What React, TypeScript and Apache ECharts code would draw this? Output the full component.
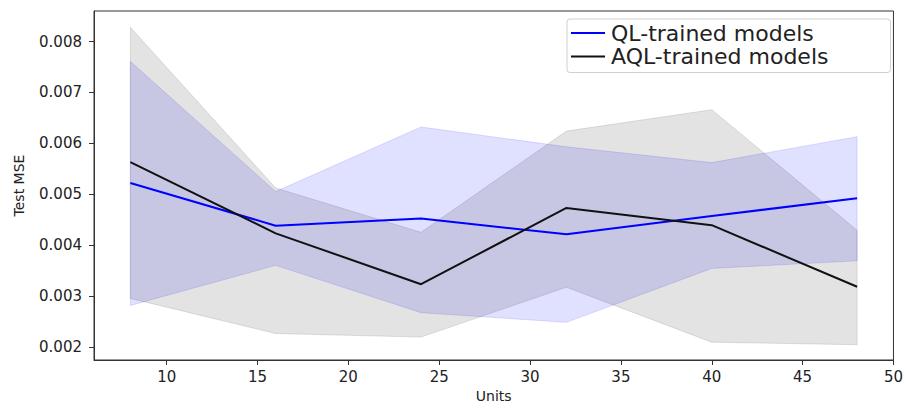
import React, { useEffect, useRef } from "react";
import * as echarts from "echarts";

const units = [8, 16, 24, 32, 40, 48];
const qlMean = [0.00522, 0.00438, 0.00452, 0.00421, 0.00457, 0.00492];
const qlUpper = [0.00761, 0.00505, 0.00632, 0.00593, 0.00562, 0.00613];
const qlLower = [0.00281, 0.0036, 0.00267, 0.00248, 0.00354, 0.00369];
const aqlMean = [0.00563, 0.00423, 0.00323, 0.00473, 0.00439, 0.00318];
const aqlUpper = [0.00828, 0.00512, 0.00425, 0.00624, 0.00666, 0.00429];
const aqlLower = [0.00295, 0.00226, 0.00219, 0.00317, 0.00209, 0.00204];
const xTicks = [10, 15, 20, 25, 30, 35, 40, 45, 50];
const yTicks = [0.002, 0.003, 0.004, 0.005, 0.006, 0.007, 0.008];

const FONT = "DejaVu Sans";

function band(name: string, lower: number[], upper: number[], color: string) {
  return {
    name,
    type: "custom",
    silent: true,
    z: 1,
    encode: { x: 0, y: [1, 2] },
    data: units.map((u, i) => [u, lower[i], upper[i]]),
    renderItem: (params: any, api: any) => {
      if (params.dataIndex !== 0) return null;
      const pts: number[][] = [];
      for (let i = 0; i < units.length; i++) pts.push(api.coord([units[i], upper[i]]));
      for (let i = units.length - 1; i >= 0; i--) pts.push(api.coord([units[i], lower[i]]));
      return {
        type: "polygon",
        shape: { points: pts },
        style: { fill: color, stroke: color, lineWidth: 1 },
      };
    },
  };
}

export default function App() {
  const ref = useRef<HTMLDivElement>(null);
  useEffect(() => {
    const chart = echarts.init(ref.current!, null, { renderer: "svg" });
    chart.setOption({
      animation: false,
      backgroundColor: "#fff",
      textStyle: { fontFamily: FONT },
      grid: {
        left: 94,
        right: 8,
        top: 11,
        bottom: 49,
        show: true,
        borderColor: "#333",
        borderWidth: 1,
        backgroundColor: "transparent",
      },
      legend: {
        data: ["QL-trained models", "AQL-trained models"],
        orient: "vertical",
        left: 567,
        top: 19,
        padding: [3, 62, 5, 4],
        itemGap: 1.5,
        itemWidth: 34,
        itemHeight: 2,
        icon: "rect",
        backgroundColor: "#fff",
        borderColor: "#d0d0d0",
        borderWidth: 1,
        borderRadius: 3,
        textStyle: { fontFamily: FONT, fontSize: 22, lineHeight: 22, color: "#222", padding: [0, 0, 0, 1] },
      },
      xAxis: {
        type: "value",
        min: 6,
        max: 50,
        name: "Units",
        nameLocation: "middle",
        nameGap: 28,
        nameTextStyle: { fontFamily: FONT, fontSize: 14, color: "#222" },
        splitLine: { show: false },
        axisLine: { show: true, lineStyle: { color: "#333", width: 1 } },
        axisTick: { show: true, length: 5, inside: false, customValues: xTicks, lineStyle: { color: "#333" } },
        axisLabel: {
          customValues: xTicks,
          margin: 9,
          fontSize: 15,
          color: "#222",
          fontFamily: FONT,
          formatter: (v: number) => String(v),
        },
      },
      yAxis: {
        type: "value",
        min: 0.00174,
        max: 0.0086,
        name: "Test MSE",
        nameLocation: "middle",
        nameGap: 68,
        nameTextStyle: { fontFamily: FONT, fontSize: 14, color: "#222" },
        splitLine: { show: false },
        axisLine: { show: true, lineStyle: { color: "#333", width: 1 } },
        axisTick: { show: true, length: 5, inside: false, customValues: yTicks, lineStyle: { color: "#333" } },
        axisLabel: {
          customValues: yTicks,
          margin: 12,
          fontSize: 15,
          color: "#222",
          fontFamily: FONT,
          formatter: (v: number) => v.toFixed(3),
        },
      },
      series: [
        band("qlBand", qlLower, qlUpper, "rgba(0,0,255,0.12)"),
        band("aqlBand", aqlLower, aqlUpper, "rgba(0,0,0,0.11)"),
        {
          name: "QL-trained models",
          type: "line",
          z: 3,
          showSymbol: false,
          symbol: "none",
          itemStyle: { color: "#0000ff" },
          lineStyle: { color: "#0000ff", width: 2 },
          data: units.map((u, i) => [u, qlMean[i]]),
        },
        {
          name: "AQL-trained models",
          type: "line",
          z: 3,
          showSymbol: false,
          symbol: "none",
          itemStyle: { color: "#111" },
          lineStyle: { color: "#111", width: 2 },
          data: units.map((u, i) => [u, aqlMean[i]]),
        },
      ],
    });
    return () => chart.dispose();
  }, []);
  return <div ref={ref} style={{ width: 906, height: 409, position: "absolute", left: 0, top: 0 }} />;
}
